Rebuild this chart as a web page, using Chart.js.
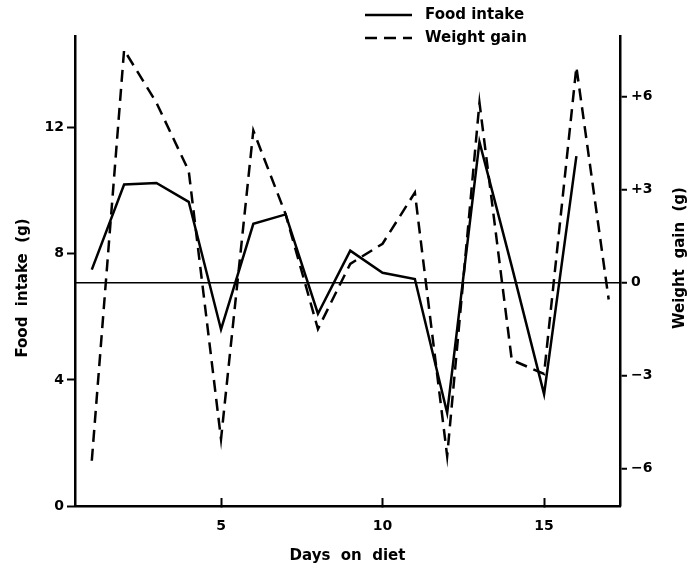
<!DOCTYPE html>
<html>
<head>
<meta charset="utf-8">
<title>Food intake and weight gain</title>
<script src="https://cdn.jsdelivr.net/npm/chart.js@4.4.1/dist/chart.umd.min.js"></script>
<style>
  html, body { margin: 0; padding: 0; background: #fff; }
  #chart { display: block; }
</style>
</head>
<body>
<canvas id="chart" width="700" height="568"></canvas>
<script>
const days = [1, 2, 3, 4, 5, 6, 7, 8, 9, 10, 11, 12, 13, 14, 15, 16, 17];
const foodIntake = [7.5, 10.2, 10.25, 9.65, 5.6, 8.95, 9.25, 6.1, 8.1, 7.4, 7.2, 2.95, 11.55, 7.6, 3.55, 11.1, null];
const weightGain = [-5.75, 7.5, 5.8, 3.6, -5.05, 4.9, 2.2, -1.5, 0.6, 1.25, 2.9, -5.6, 5.8, -2.5, -2.95, 6.95, -0.55];

const dayTicks = [5, 10, 15];
const foodTicks = [0, 4, 8, 12];
const gainTicks = [-6, -3, 0, 3, 6];
const gainTickLabels = ['\u22126', '\u22123', '0', '+3', '+6'];

const FONT = '"DejaVu Sans", sans-serif';
const tickFont = { family: FONT, size: 14, weight: 'bold' };
const titleFont = { family: FONT, size: 15, weight: 'bold' };

function toPoints(values) {
  return days.map((d, i) => ({ x: d, y: values[i] }));
}

// legend drawn as line samples stacked above the plot
const lineLegend = {
  id: 'lineLegend',
  afterDraw(chart, args, opts) {
    const ctx = chart.ctx;
    ctx.save();
    ctx.font = `bold 15px ${FONT}`;
    ctx.textBaseline = 'middle';
    ctx.fillStyle = '#000';
    chart.data.datasets.forEach((ds, i) => {
      const y = opts.top + i * opts.rowHeight;
      ctx.beginPath();
      ctx.lineWidth = ds.borderWidth;
      ctx.strokeStyle = ds.borderColor;
      ctx.setLineDash(ds.borderDash || []);
      ctx.moveTo(opts.left, y);
      ctx.lineTo(opts.left + opts.sampleWidth, y);
      ctx.stroke();
      ctx.fillText(ds.label, opts.left + opts.sampleWidth + opts.gap, y);
    });
    ctx.restore();
  }
};

// both side titles read upward (chart.js would turn the right one downward)
const sideTitles = {
  id: 'sideTitles',
  afterDraw(chart, args, opts) {
    const ctx = chart.ctx;
    ctx.save();
    ctx.font = `bold 15px ${FONT}`;
    ctx.fillStyle = '#000';
    ctx.textAlign = 'center';
    ctx.textBaseline = 'middle';
    opts.items.forEach(item => {
      ctx.save();
      ctx.translate(item.x, item.y);
      ctx.rotate(-Math.PI / 2);
      ctx.fillText(item.text, 0, 0);
      ctx.restore();
    });
    ctx.restore();
  }
};

new Chart(document.getElementById('chart'), {
  type: 'line',
  data: {
    datasets: [
      {
        label: 'Food intake',
        data: toPoints(foodIntake),
        yAxisID: 'y',
        borderColor: '#000',
        borderWidth: 2.5,
        pointRadius: 0,
        tension: 0,
        fill: false
      },
      {
        label: 'Weight gain',
        data: toPoints(weightGain),
        yAxisID: 'y1',
        borderColor: '#000',
        borderWidth: 2.5,
        borderDash: [12, 7],
        pointRadius: 0,
        tension: 0,
        fill: false
      }
    ]
  },
  options: {
    responsive: false,
    animation: false,
    layout: { padding: { top: 36, left: 0, right: 0, bottom: 0 } },
    plugins: {
      legend: { display: false },
      tooltip: { enabled: false },
      lineLegend: { left: 365, top: 15, rowHeight: 23, sampleWidth: 47, gap: 13 },
      sideTitles: {
        items: [
          { text: 'Food  intake  (g)', x: 23, y: 288 },
          { text: 'Weight  gain  (g)', x: 680, y: 258 }
        ]
      }
    },
    scales: {
      x: {
        type: 'linear',
        min: 0.48,
        max: 17.35,
        afterBuildTicks: scale => { scale.ticks = dayTicks.map(v => ({ value: v })); },
        afterFit: scale => { scale.height = 62; },
        border: { color: '#000', width: 2.5 },
        grid: { drawOnChartArea: false, tickLength: -8, tickWidth: 2, tickColor: '#000' },
        ticks: { color: '#000', font: tickFont, padding: 20, maxRotation: 0 },
        title: { display: true, text: 'Days  on  diet', color: '#000', font: titleFont, padding: { bottom: 3 } }
      },
      y: {
        position: 'left',
        min: 0,
        max: 14.91,
        afterBuildTicks: scale => { scale.ticks = foodTicks.map(v => ({ value: v })); },
        afterFit: scale => { scale.width = 75; },
        border: { color: '#000', width: 2.5 },
        grid: { drawOnChartArea: false, tickLength: 8, tickWidth: 2, tickColor: '#000' },
        ticks: { color: '#000', font: tickFont, padding: 3 }
      },
      y1: {
        position: 'right',
        min: -7.21,
        max: 7.95,
        afterBuildTicks: scale => { scale.ticks = gainTicks.map(v => ({ value: v })); },
        afterFit: scale => { scale.width = 80; },
        border: { color: '#000', width: 2.5 },
        grid: {
          color: ctx => (ctx.tick && ctx.tick.value === 0 ? '#000' : 'rgba(0,0,0,0)'),
          lineWidth: 1.5,
          tickLength: 7,
          tickWidth: 2,
          tickColor: '#000'
        },
        ticks: {
          color: '#000',
          font: tickFont,
          padding: 4,
          callback: value => gainTickLabels[gainTicks.indexOf(value)]
        }
      }
    }
  },
  plugins: [lineLegend, sideTitles]
});
</script>
</body>
</html>
